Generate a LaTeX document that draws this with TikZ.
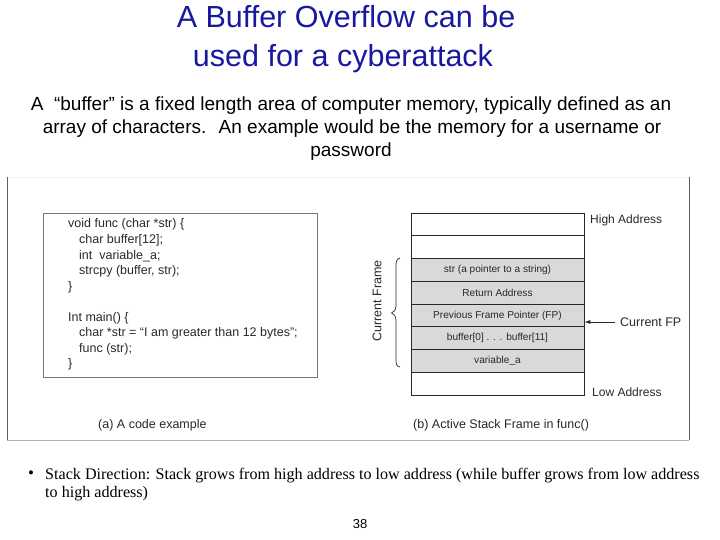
\documentclass[tikz,border=0pt]{standalone}
\usepackage{fontspec}
\setmainfont{Liberation Sans}
\newfontfamily\seriffont{Liberation Serif}
\usetikzlibrary{arrows.meta}
\definecolor{titleblue}{RGB}{24,24,160}
\definecolor{cellgray}{RGB}{217,217,217}
\definecolor{framegray}{RGB}{95,95,95}
\definecolor{lightframe}{RGB}{175,175,175}
\definecolor{boxgray}{RGB}{120,120,120}
\definecolor{textgray}{RGB}{40,40,40}
\begin{document}
\begin{tikzpicture}[x=1pt,y=-1pt,
  titlestyle/.style={anchor=base,inner sep=0pt,text=titleblue,font=\fontsize{30.5}{33}\selectfont},
  bodystyle/.style={anchor=base,inner sep=0pt,font=\fontsize{19}{21}\selectfont},
  codestyle/.style={anchor=base west,inner sep=0pt,text=textgray,font=\fontsize{12.5}{14}\selectfont},
  cell/.style={draw=textgray,line width=0.7pt,minimum width=173pt,minimum height=22.75pt,inner sep=0pt,text=textgray,font=\fontsize{10.1}{12}\selectfont},
  graycell/.style={cell,fill=cellgray},
  lbl/.style={inner sep=0pt,text=textgray,font=\fontsize{12.5}{14}\selectfont},
  bullettext/.style={anchor=base west,inner sep=0pt,font=\seriffont\fontsize{16.1}{18}\selectfont}
]
\useasboundingbox (0,0) rectangle (720,540);
% title
\node[titlestyle] (t1) at (346,28) {A Buffer Overflow can be};
\node[titlestyle] (t2) at (343,67) {used for a cyberattack};
% body
\node[bodystyle] (b1) at (351,111) {A \ “buffer” is a fixed length area of computer memory, typically defined as an};
\node[bodystyle] (b2) at (352,134) {array of characters. \ An example would be the memory for a username or};
\node[bodystyle] (b3) at (351,157) {password};
% figure frame
\draw[draw=black!6,line width=0.6pt] (7,177) -- (689,177);
\draw[draw=framegray,line width=0.9pt] (7,177) -- (7,440);
\draw[draw=framegray,line width=0.9pt] (689,177) -- (689,440);
\draw[draw=lightframe,line width=0.9pt] (7,440) -- (689,440);
% code box
\node[draw=boxgray,line width=0.8pt,minimum width=274pt,minimum height=164pt,inner sep=0pt] (codebox) at (180,295) {};
\node[codestyle] (c1) at (68,228) {void func (char *str) \{};
\node[codestyle] (c2) at (79,243.5) {char buffer[12];};
\node[codestyle] (c3) at (79,259) {int \ variable\_a;};
\node[codestyle] (c4) at (79,274.5) {strcpy (buffer, str);};
\node[codestyle] (c5) at (68,290) {\}};
\node[codestyle] (c6) at (68,321) {Int main() \{};
\node[codestyle] (c7) at (79,336.5) {char *str = “I am greater than 12 bytes”;};
\node[codestyle] (c8) at (79,352) {func (str);};
\node[codestyle] (c9) at (68,367.5) {\}};
\node[lbl,anchor=base west] (capa) at (98,428) {(a) A code example};
% stack
\node[cell] (r1) at (497.5,224.4) {};
\node[cell] (r2) at (497.5,247.1) {};
\node[graycell] (r3) at (497.5,269.9) {str (a pointer to a string)};
\node[graycell] (r4) at (497.5,292.6) {Return Address};
\node[graycell] (r5) at (497.5,315.4) {Previous Frame Pointer (FP)};
\node[graycell] (r6) at (497.5,338.1) {buffer[0] . . . buffer[11]};
\node[graycell] (r7) at (497.5,360.9) {variable\_a};
\node[cell] (r8) at (497.5,383.6) {};
\node[lbl,anchor=base west,font=\fontsize{12}{14}\selectfont] (high) at (590,224) {High Address};
\node[lbl,anchor=base west,font=\fontsize{12}{14}\selectfont] (low) at (592,396) {Low Address};
\node[lbl,anchor=west,inner xsep=5pt] (cfp) at (615,322) {Current FP};
\draw[-{Latex[length=6pt,width=4pt]},draw=textgray,line width=0.8pt] (cfp.west) -- (r5.east |- cfp.west);
% brace
\draw[textgray,line width=0.7pt]
  (400,258) .. controls (396,259) and (396,262) .. (396,268) -- (396,305)
  .. controls (396,310) and (394,312.5) .. (391.5,313)
  .. controls (394,313.5) and (396,316) .. (396,321) -- (396,358)
  .. controls (396,364) and (396,366) .. (400,367);
\node[lbl,rotate=90] (cf) at (377,301) {Current Frame};
\node[lbl,anchor=base west] (capb) at (413,428) {(b) Active Stack Frame in func()};
% bullet
\node[anchor=base,inner sep=0pt,font=\seriffont\fontsize{17}{18}\selectfont] (bul) at (31,478) {•};
\node[bullettext] (s1) at (45,479) {Stack Direction: Stack grows from high address to low address (while buffer grows from low address};
\node[bullettext] (s2) at (45,497) {to high address)};
% page number
\node[anchor=base,inner sep=0pt,font=\fontsize{13}{14}\selectfont] (pg) at (360,528) {38};
\end{tikzpicture}
\end{document}
